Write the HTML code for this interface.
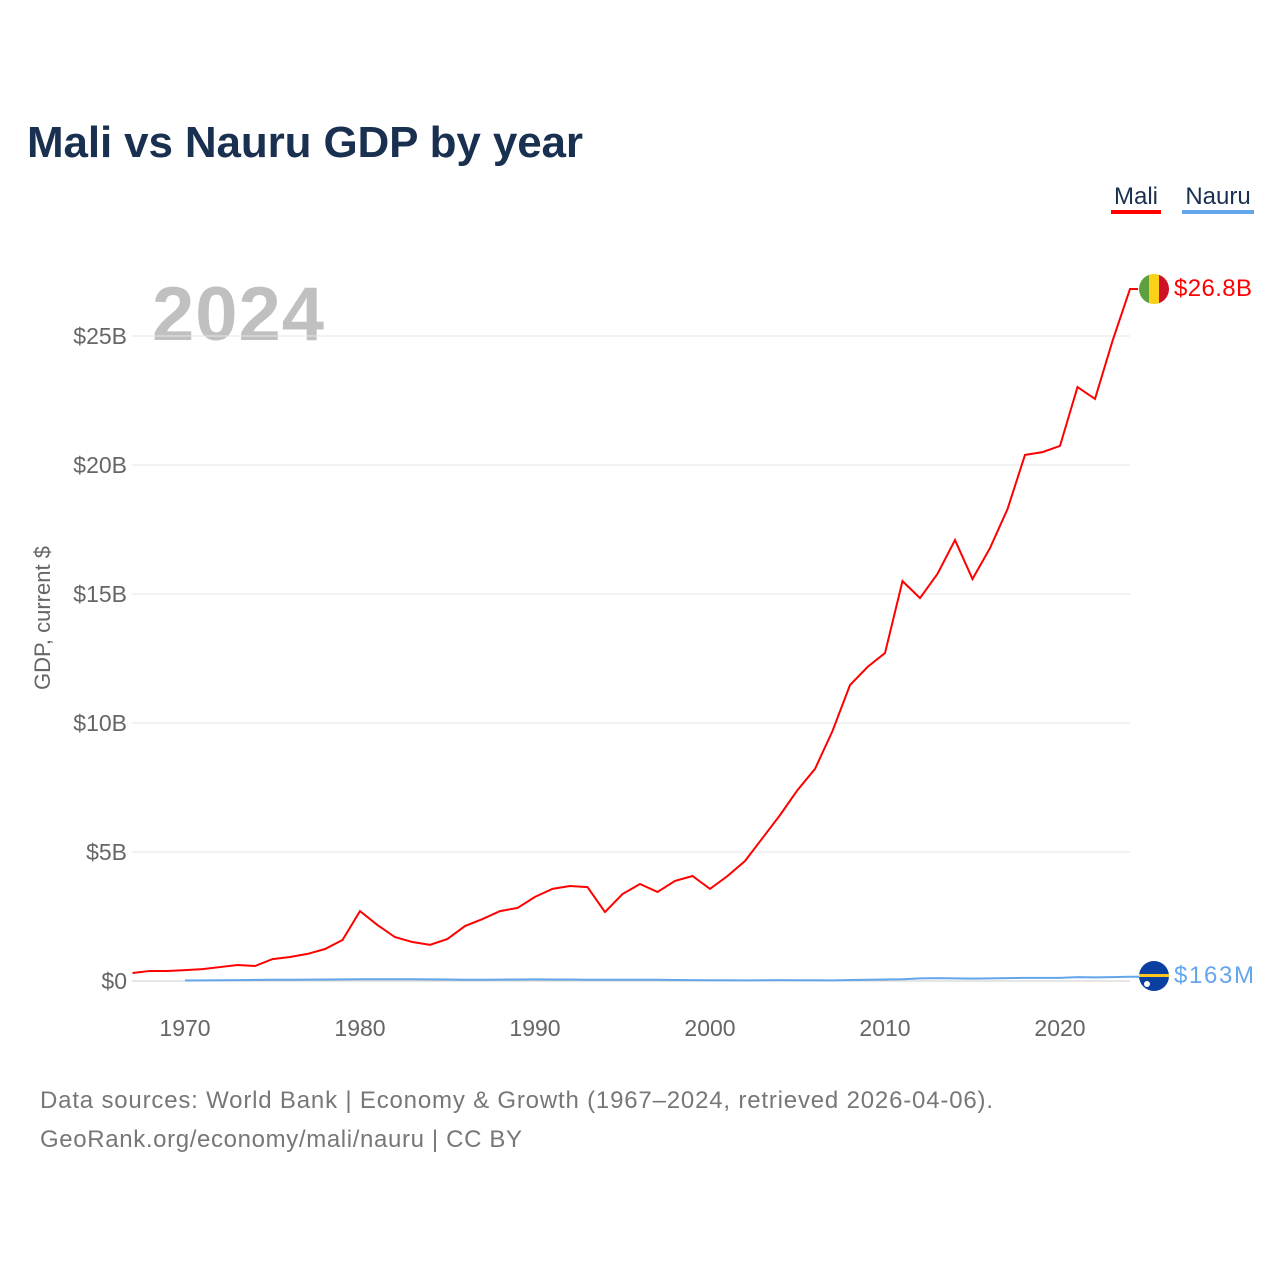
<!DOCTYPE html>
<html><head><meta charset="utf-8"><style>
body{margin:0;background:#fff;font-family:"Liberation Sans",sans-serif;}
#wrap{position:relative;width:1280px;height:1280px;overflow:hidden;}
</style></head><body>
<div id="wrap">
<svg id="chart" width="1280" height="1280" font-family="Liberation Sans, sans-serif">
<text x="27" y="157" font-size="44" font-weight="bold" fill="#1a3050" textLength="556">Mali vs Nauru GDP by year</text>
<g><text x="1136" y="204" font-size="24" fill="#1a3050" text-anchor="middle">Mali</text><rect x="1111" y="210" width="50" height="4" fill="#ff0000"/></g>
<g><text x="1218" y="204" font-size="24" fill="#1a3050" text-anchor="middle">Nauru</text><rect x="1182" y="210" width="72" height="4" fill="#64a6ec"/></g>
<text x="152" y="340" font-size="76" font-weight="bold" fill="#c0c0c0" textLength="172">2024</text>
<text transform="translate(50,618) rotate(-90)" font-size="22" fill="#666" text-anchor="middle">GDP, current $</text>
<g id="grid"></g><g id="yt"></g><g id="xt"></g><g id="lines"></g>
<g><clipPath id="c1"><circle cx="1154" cy="289" r="15"/></clipPath><g clip-path="url(#c1)"><rect x="1139" y="274" width="10" height="30" fill="#5ea040"/><rect x="1149" y="274" width="10" height="30" fill="#fcd116"/><rect x="1159" y="274" width="10" height="30" fill="#ce1126"/></g></g>
<text x="1174" y="296" font-size="24" fill="#ff0000" textLength="78">$26.8B</text>
<g><circle cx="1154" cy="976" r="15" fill="#0b3fa0"/><rect x="1139" y="974" width="30" height="3" fill="#ffc61e"/><circle cx="1147" cy="984" r="3" fill="#fff"/></g>
<text x="1174" y="983" font-size="24" fill="#64a6ec" textLength="80">$163M</text>
<text x="40" y="1108" font-size="24" fill="#777" textLength="953">Data sources: World Bank | Economy &amp; Growth (1967–2024, retrieved 2026-04-06).</text>
<text x="40" y="1147" font-size="24" fill="#777" textLength="482">GeoRank.org/economy/mali/nauru | CC BY</text>
</svg></div>
<script>
const years=[];for(let y=1967;y<=2024;y++)years.push(y);
const maliGdp=[0.31,0.39,0.39,0.42,0.46,0.54,0.62,0.58,0.85,0.93,1.05,1.24,1.59,2.71,2.17,1.7,1.51,1.4,1.63,2.13,2.4,2.71,2.83,3.26,3.57,3.68,3.64,2.67,3.37,3.76,3.45,3.88,4.07,3.57,4.07,4.65,5.54,6.43,7.4,8.22,9.69,11.47,12.17,12.71,15.5,14.84,15.78,17.09,15.58,16.78,18.29,20.39,20.5,20.74,23.02,22.56,24.81,26.82];
const nauruYears=[];for(let y=1970;y<=2024;y++)nauruYears.push(y);
const nauruGdp=[0.02,0.025,0.03,0.035,0.045,0.05,0.05,0.055,0.06,0.065,0.07,0.07,0.07,0.07,0.065,0.06,0.05,0.05,0.055,0.06,0.065,0.06,0.06,0.05,0.05,0.05,0.05,0.05,0.04,0.035,0.03,0.03,0.025,0.03,0.035,0.03,0.03,0.025,0.04,0.05,0.06,0.07,0.1,0.11,0.1,0.09,0.1,0.11,0.12,0.12,0.12,0.15,0.14,0.15,0.163];
const yTicks=[0,5,10,15,20,25];const yLabels=["$0","$5B","$10B","$15B","$20B","$25B"];
const xTicks=[1970,1980,1990,2000,2010,2020];
const X=y=>185+(y-1970)*17.5, Y=v=>981-v*25.8;
const NS="http://www.w3.org/2000/svg";
function mk(t,a,p){const e=document.createElementNS(NS,t);for(const k in a)e.setAttribute(k,a[k]);p.appendChild(e);return e;}
const grid=document.getElementById('grid'),yt=document.getElementById('yt'),xt=document.getElementById('xt'),lines=document.getElementById('lines');
yTicks.forEach((v,i)=>{const l=mk('line',{x1:132,x2:1130,y1:Y(v),y2:Y(v),stroke:v==0?'#ccc':'#e6e6e6','stroke-width':1},grid);


const t=mk('text',{x:127,y:Y(v)+8,'font-size':23,fill:'#666','text-anchor':'end'},yt);t.textContent=yLabels[i];

});
xTicks.forEach(v=>{const t=mk('text',{x:X(v),y:1036,'font-size':23,fill:'#666','text-anchor':'middle'},xt);t.textContent=v;

});
const np=mk('path',{d:'M'+nauruYears.map((y,i)=>X(y)+','+Y(nauruGdp[i])).join('L')+'L1140,'+Y(nauruGdp[nauruGdp.length-1]),fill:'none',stroke:'#64a6ec','stroke-width':2},lines);


const mp=mk('path',{d:'M'+years.map((y,i)=>X(y)+','+Y(maliGdp[i])).join('L')+'L1138,'+Y(maliGdp[maliGdp.length-1]),fill:'none',stroke:'#ff0000','stroke-width':2},lines);


</script>
</body></html>
